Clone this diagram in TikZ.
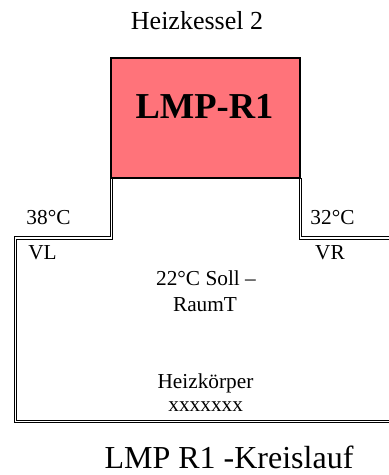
\documentclass[tikz,border=0pt]{standalone}
\usepackage{fontspec}
\setmainfont{Liberation Serif}
\definecolor{boxred}{RGB}{255,115,122}
\tikzset{
  lbl/.style={inner sep=0pt,outer sep=0pt,anchor=base,text=black},
  small/.style={font=\fontsize{21.3}{21.3}\selectfont},
  pipe/.style={draw=black,line width=0.8pt,line join=miter}
}
\begin{document}
\begin{tikzpicture}[x=1pt,y=-1pt]
\useasboundingbox (0,0) rectangle (389,475);
\node[draw=black,fill=boxred,line width=2.5pt,minimum width=189pt,minimum height=120pt,inner sep=0pt,outer sep=0pt] (box) at (205.5,118) {};
\coordinate (loT) at (110,178);
\coordinate (liT) at (112.2,178);
\coordinate (roT) at (301.7,178);
\coordinate (riT) at (299.3,178);
\coordinate (loE) at (389,422.2);
\coordinate (liE) at (389,420);
\coordinate (roE) at (389,236.8);
\coordinate (riE) at (389,239);
\draw[pipe] (loT) -- (110,236.8) -- (14.4,236.8) -- (14.4,422.2) -- (loE);
\draw[pipe] (liT) -- (112.2,239) -- (16.6,239) -- (16.6,420) -- (liE);
\draw[pipe] (roT) -- (301.7,236.8) -- (roE);
\draw[pipe] (riT) -- (299.3,239) -- (riE);
\node[lbl,font=\fontsize{26}{26}\selectfont] (title) at (197,29.5) {Heizkessel 2};
\node[lbl,font=\fontsize{36.5}{36.5}\selectfont\bfseries] (name) at (204.5,118) {LMP-R1};
\node[lbl,small] (tl) at (48.5,224) {38°C};
\node[lbl,small] (vl) at (42.5,259) {VL};
\node[lbl,small] (tr) at (332.5,224) {32°C};
\node[lbl,small] (vr) at (330,259) {VR};
\node[lbl,small] (soll) at (206,285.5) {22°C Soll –};
\node[lbl,small] (raum) at (205,311.7) {RaumT};
\node[lbl,small] (hk) at (205.5,388.3) {Heizkörper};
\node[lbl,small] (xx) at (205.7,411.7) {xxxxxxx};
\node[lbl,font=\fontsize{32}{32}\selectfont] (main) at (229,468) {LMP R1 -Kreislauf};
\end{tikzpicture}
\end{document}
